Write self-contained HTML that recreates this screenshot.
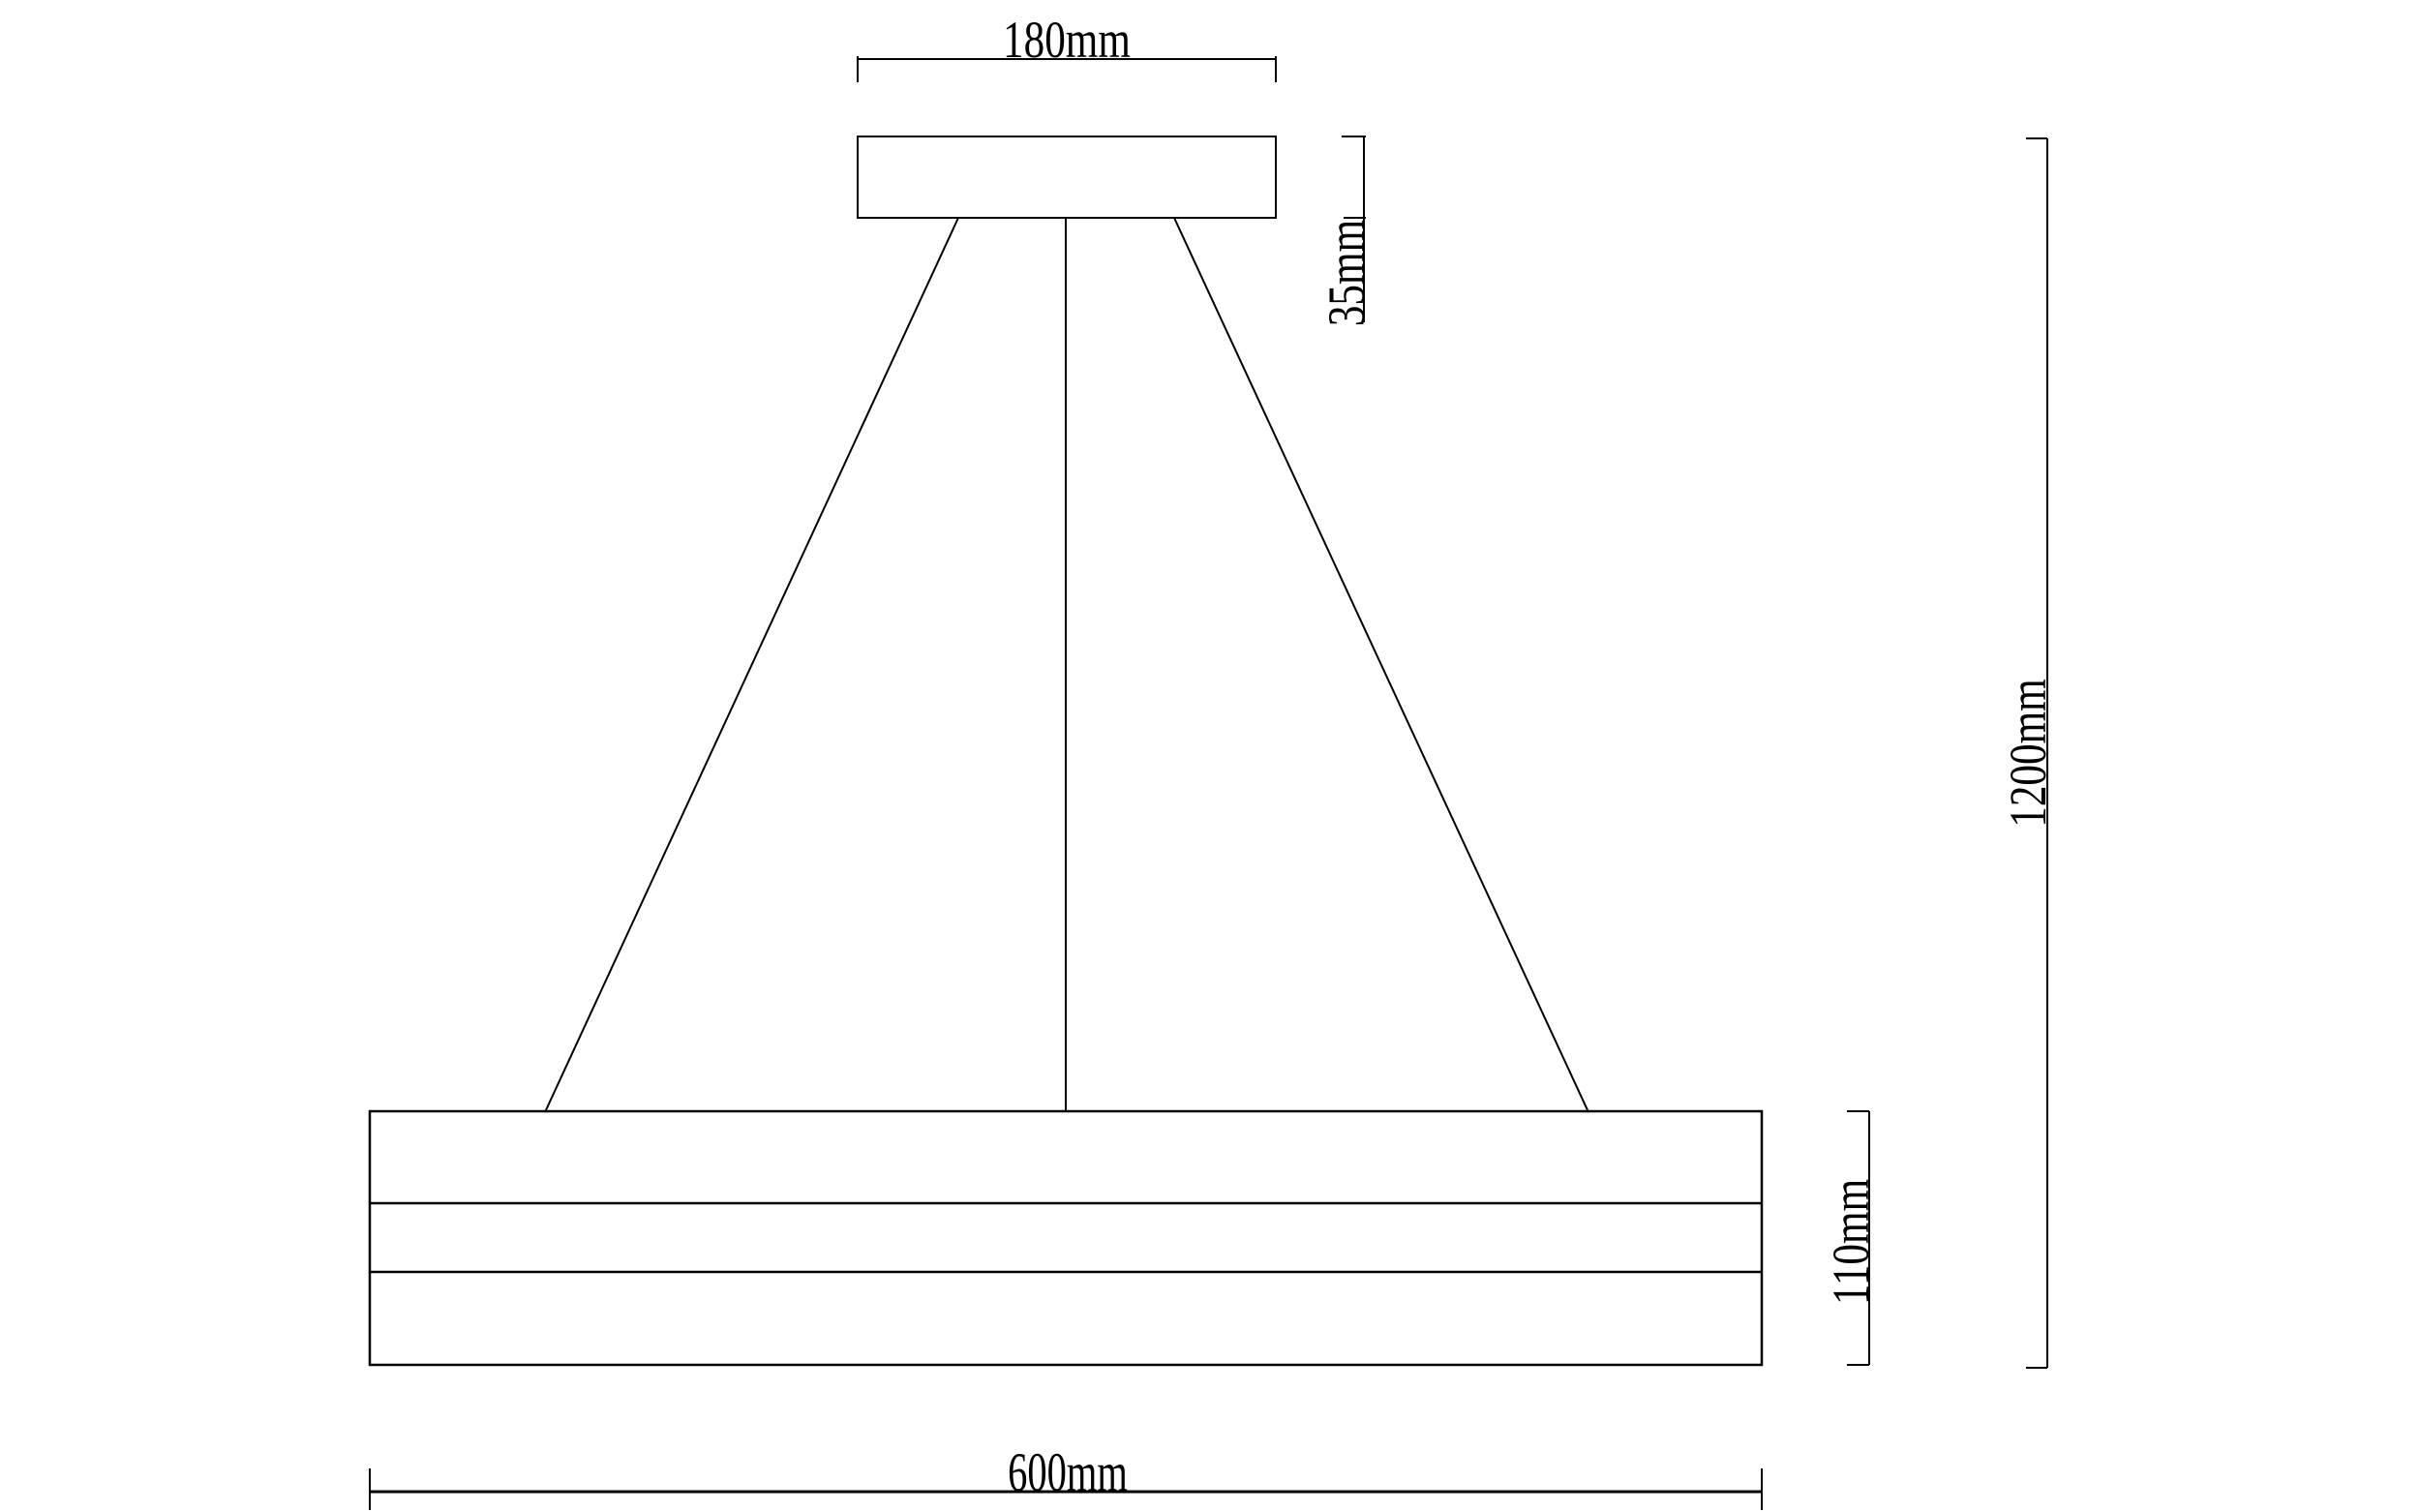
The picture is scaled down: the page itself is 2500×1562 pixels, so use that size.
<!DOCTYPE html>
<html><head><meta charset="utf-8"><style>html,body{margin:0;padding:0;background:#fff}</style></head>
<body>
<svg width="2500" height="1562" viewBox="0 0 2500 1562" xmlns="http://www.w3.org/2000/svg" style="display:block">
<g fill="none" stroke="#000" stroke-width="2">
<rect x="886" y="141" width="432" height="84"/>
<line x1="990" y1="225" x2="563" y2="1149"/>
<line x1="1101" y1="225" x2="1101" y2="1149"/>
<line x1="1213" y1="225" x2="1641" y2="1149"/>
<rect x="382" y="1148" width="1438" height="262" stroke-width="2.5"/>
<line x1="382" y1="1243" x2="1820" y2="1243" stroke-width="2.5"/>
<line x1="382" y1="1314" x2="1820" y2="1314" stroke-width="2.5"/>
<line x1="886" y1="61" x2="1318" y2="61"/>
<line x1="886" y1="58" x2="886" y2="85"/>
<line x1="1318" y1="58" x2="1318" y2="85"/>
<line x1="1409" y1="141" x2="1409" y2="225"/>
<line x1="1386" y1="141" x2="1411" y2="141"/>
<line x1="1388" y1="225" x2="1411" y2="225"/>
<line x1="1409" y1="225" x2="1409" y2="333"/>
<line x1="1931" y1="1148" x2="1931" y2="1410"/>
<line x1="1908" y1="1148" x2="1931" y2="1148"/>
<line x1="1908" y1="1410" x2="1931" y2="1410"/>
<line x1="2115" y1="143" x2="2115" y2="1413"/>
<line x1="2093" y1="143" x2="2115" y2="143"/>
<line x1="2093" y1="1413" x2="2115" y2="1413"/>
<line x1="382" y1="1541" x2="1820" y2="1541" stroke-width="3"/>
<line x1="382" y1="1517" x2="382" y2="1560"/>
<line x1="1820" y1="1517" x2="1820" y2="1560"/>
</g>
<g font-family="Liberation Serif, serif" font-size="54" fill="#000">
<text transform="translate(1102,59) scale(0.8,1)" text-anchor="middle">180mm</text>
<text transform="translate(1103,1540) scale(0.75,1.05)" text-anchor="middle">600mm</text>
<text transform="translate(1409,282) rotate(-90) scale(0.8,1)" text-anchor="middle">35mm</text>
<text transform="translate(1930,1283) rotate(-90) scale(0.8,1)" text-anchor="middle">110mm</text>
<text transform="translate(2113,778) rotate(-90) scale(0.8,1)" text-anchor="middle">1200mm</text>
</g>
</svg>
</body></html>
